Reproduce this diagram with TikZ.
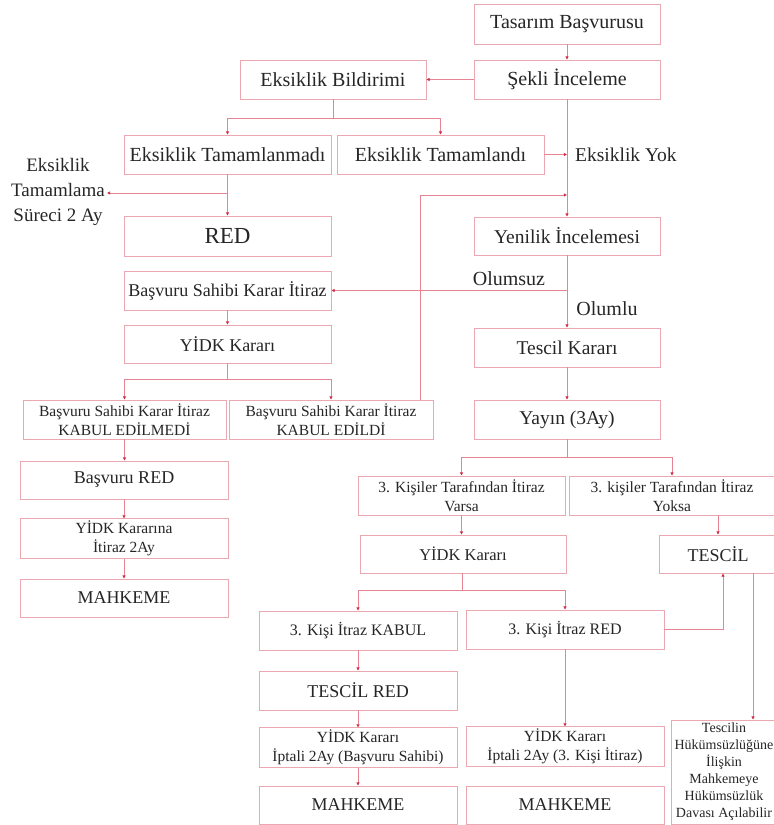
\documentclass[tikz,border=0pt]{standalone}
\usepackage{fontspec}
\setmainfont{Liberation Serif}
\usetikzlibrary{arrows.meta}
\definecolor{boxc}{RGB}{236,168,177}
\definecolor{linec}{RGB}{230,132,148}
\definecolor{tipc}{RGB}{210,45,70}
\tikzset{
  box/.style={draw=boxc, line width=0.9pt, align=center, inner sep=2pt, fill=white, text=black!85},
  fA/.style={font=\fontsize{20}{24}\selectfont},
  fAa/.style={font=\fontsize{19.5}{23}\selectfont},
  fB/.style={font=\fontsize{18}{22}\selectfont},
  fC/.style={font=\fontsize{15.5}{19}\selectfont},
  fCc/.style={font=\fontsize{16}{19}\selectfont},
  fD/.style={font=\fontsize{14}{17}\selectfont},
  conn/.style={draw=linec, line width=0.8pt},
  arr/.style={conn, -{Triangle[length=3.2pt,width=3pt,color=tipc]}},
  lbl/.style={inner sep=2pt, align=center, text=black!85}
}
\begin{document}
\begin{tikzpicture}[x=1pt,y=-1pt]
\useasboundingbox (0,0) rectangle (774,825);
% nodes
\node[box,fA,minimum width=186,minimum height=40] (tas) at (567,24) {Tasarım Başvurusu};
\node[box,fA,minimum width=186,minimum height=39] (sek) at (567,79.5) {Şekli İnceleme};
\node[box,fA,minimum width=186,minimum height=39] (bil) at (333,79.5) {Eksiklik Bildirimi};
\node[box,fA,minimum width=207,minimum height=39] (tmd) at (227.5,154.5) {Eksiklik Tamamlanmadı};
\node[box,fA,minimum width=207,minimum height=39] (tmdi) at (440.5,154.5) {Eksiklik Tamamlandı};
\node[lbl,fAa,anchor=west] (eyok) at (573,154.5) {Eksiklik Yok};
\node[lbl,font=\fontsize{19}{25}\selectfont] (etsa) at (58,192) {Eksiklik\\Tamamlama\\Süreci 2 Ay};
\node[box,font=\fontsize{23}{26}\selectfont,minimum width=207,minimum height=40] (red) at (227.5,236) {RED};
\node[box,fAa,minimum width=186,minimum height=38] (yen) at (567,236) {Yenilik İncelemesi};
\node[box,fB,minimum width=207,minimum height=39] (bski) at (227.5,290.5) {Başvuru Sahibi Karar İtiraz};
\node[lbl,fA] (olumsuz) at (509,279) {Olumsuz};
\node[lbl,fA] (olumlu) at (607,309) {Olumlu};
\node[box,fB,minimum width=207,minimum height=38] (yidk1) at (227.5,344) {YİDK Kararı};
\node[box,fAa,minimum width=186,minimum height=39] (tk) at (567,347.5) {Tescil Kararı};
\node[box,fC,minimum width=203,minimum height=39] (kem) at (124.5,419.5) {Başvuru Sahibi Karar İtiraz\\KABUL EDİLMEDİ};
\node[box,fC,minimum width=204,minimum height=39] (ke) at (331,419.5) {Başvuru Sahibi Karar İtiraz\\KABUL EDİLDİ};
\node[box,fAa,minimum width=186,minimum height=39] (yay) at (567,419.5) {Yayın (3Ay)};
\node[box,fB,minimum width=208,minimum height=38] (bred) at (124,480) {Başvuru RED};
\node[box,fC,minimum width=208,minimum height=39] (yki) at (124,538.5) {YİDK Kararına\\İtiraz 2Ay};
\node[box,fB,minimum width=208,minimum height=38] (mah1) at (124,598) {MAHKEME};
\node[box,fC,minimum width=207,minimum height=39] (var) at (461.5,495.5) {3. Kişiler Tarafından İtiraz\\Varsa};
\node[box,fC,minimum width=206,minimum height=39] (yok) at (672,495.5) {3. kişiler Tarafından İtiraz\\Yoksa};
\node[box,font=\fontsize{16.5}{20}\selectfont,minimum width=206,minimum height=38] (yidk2) at (463,554) {YİDK Kararı};
\node[box,fB,minimum width=118,minimum height=38] (tes) at (718,554) {TESCİL};
\node[box,fCc,minimum width=198,minimum height=39] (kab) at (358,630.5) {3. Kişi İtraz KABUL};
\node[box,fCc,minimum width=198,minimum height=39] (kred) at (565,629.5) {3. Kişi İtraz RED};
\node[box,fB,minimum width=198,minimum height=39] (tred) at (358,690.5) {TESCİL RED};
\node[box,fC,minimum width=198,minimum height=39] (yip1) at (358,747.5) {YİDK Kararı\\İptali 2Ay (Başvuru Sahibi)};
\node[box,fC,minimum width=198,minimum height=39] (yip2) at (565,746.5) {YİDK Kararı\\İptali 2Ay (3. Kişi İtiraz)};
\node[box,fB,minimum width=198,minimum height=38] (mah2) at (358,805) {MAHKEME};
\node[box,fB,minimum width=198,minimum height=38] (mah3) at (565,805) {MAHKEME};
\node[box,fD,minimum width=106,minimum height=104] (hk) at (724,772) {Tescilin\\Hükümsüzlüğüne\\İlişkin\\Mahkemeye\\Hükümsüzlük\\Davası Açılabilir};
% coordinates
\coordinate (j1) at (333,118);
\coordinate (j2) at (227.5,193);
\coordinate (kx) at (420,195);
\coordinate (j3) at (567,290.5);
\coordinate (j4) at (227.5,379);
\coordinate (j5) at (567,457);
\coordinate (j6) at (462,590);
\coordinate (r1) at (723,629.5);
\coordinate (tx) at (753,600);
% connectors
\draw[arr] (tas.south) -- (sek.north);
\draw[arr] (sek.west) -- (bil.east);
\draw[conn] (bil.south) -- (j1);
\draw[arr] (j1) -| (tmd.north);
\draw[arr] (j1) -| (tmdi.north);
\draw[arr] (tmdi.east) -- (tmdi.east -| sek.south);
\draw[arr] (sek.south) -- (yen.north);
\draw[conn] (kx |- ke.north) -- (kx);
\draw[arr] (kx) -- (kx -| sek.south);
\draw[arr] (tmd.south) -- (red.north);
\draw[arr] (j2) -- (j2 -| etsa.east);
\draw[arr] (yen.south) -- (tk.north);
\draw[arr] (j3) -- (bski.east);
\draw[arr] (bski.south) -- (yidk1.north);
\draw[conn] (yidk1.south) -- (j4);
\draw[arr] (j4) -| (kem.north);
\draw[arr] (j4) -| (ke.north);
\draw[arr] (kem.south) -- (kem.south |- bred.north);
\draw[arr] (bred.south) -- (yki.north);
\draw[arr] (yki.south) -- (mah1.north);
\draw[arr] (tk.south) -- (yay.north);
\draw[conn] (yay.south) -- (j5);
\draw[arr] (j5) -| (var.north);
\draw[arr] (j5) -| (yok.north);
\draw[arr] (var.south) -- (var.south |- yidk2.north);
\draw[arr] (tes.north |- yok.south) -- (tes.north);
\draw[conn] (yidk2.south -| j6) -- (j6);
\draw[arr] (j6) -| (kab.north);
\draw[arr] (j6) -| (kred.north);
\draw[arr] (kab.south) -- (tred.north);
\draw[arr] (tred.south) -- (yip1.north);
\draw[arr] (yip1.south) -- (mah2.north);
\draw[arr] (kred.south) -- (yip2.north);
\draw[conn] (kred.east) -- (r1);
\draw[arr] (r1) -- (r1 |- tes.south);
\draw[arr] (tes.south -| tx) -- (hk.north -| tx);
\end{tikzpicture}
\end{document}
